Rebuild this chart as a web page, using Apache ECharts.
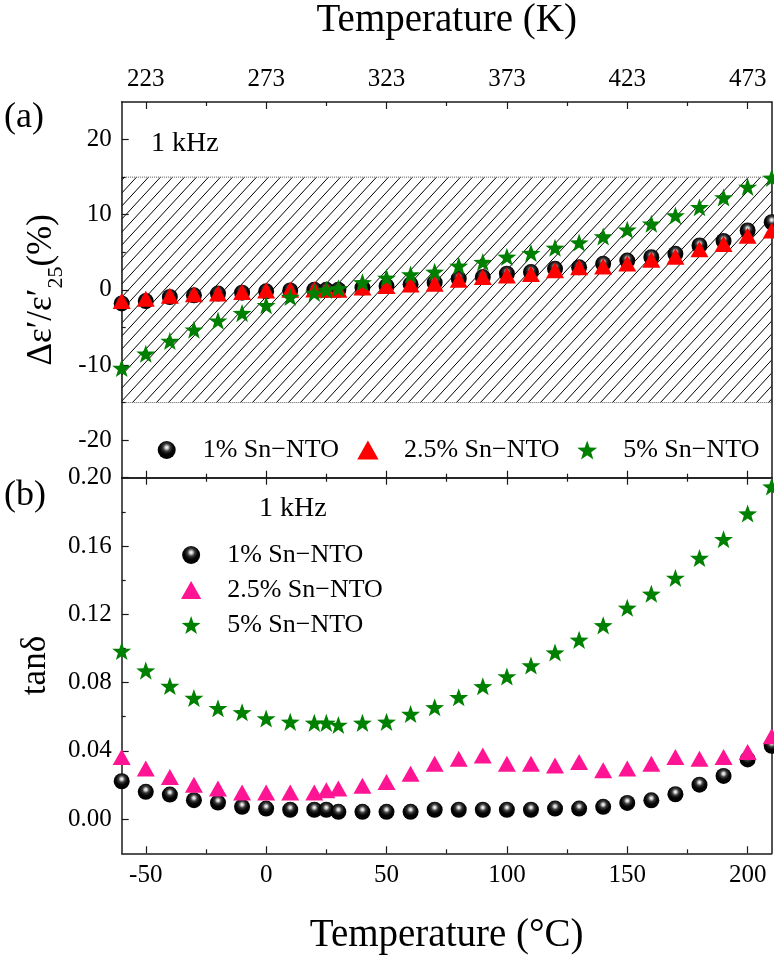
<!DOCTYPE html>
<html>
<head>
<meta charset="utf-8">
<script src="https://cdn.jsdelivr.net/npm/echarts@6/dist/echarts.min.js"></script>
<style>
html,body{margin:0;padding:0;background:#fff;}
#chart{width:774px;height:957px;}
</style>
</head>
<body>
<div id="chart"></div>
<script>
// ---------------- data ----------------
const tempC = [-60,-50,-40,-30,-20,-10,0,10,20,25,30,40,50,60,70,80,90,100,110,120,130,140,150,160,170,180,190,200,210];

// (a) Δε'/ε'25 (%)
const dE_1 = [-1.8,-1.5,-0.95,-0.73,-0.5,-0.38,-0.2,-0.07,0,0,0,0.3,0.5,0.73,0.95,1.48,1.7,2.14,2.36,2.8,3.0,3.46,3.9,4.34,4.8,5.9,6.5,7.9,9.0];
const dE_2 = [-1.5,-1.2,-0.8,-0.6,-0.5,-0.3,-0.1,0,0.05,0,0,0.3,0.5,0.7,0.8,1.35,1.7,1.9,2.1,2.6,3.0,3.1,3.5,4.0,4.4,5.4,6.1,7.2,7.9];
const dE_3 = [-10.4,-8.5,-6.8,-5.3,-4.1,-3.1,-2.05,-0.95,-0.4,0,0.2,1.0,1.6,2.05,2.4,3.2,3.7,4.4,4.9,5.6,6.3,7.1,8.0,8.8,9.9,11.0,12.3,13.7,14.9];

// (b) tanδ
const tan_1 = [0.0222,0.016,0.0144,0.0111,0.0097,0.0072,0.0062,0.0055,0.0055,0.0055,0.0043,0.0043,0.0043,0.0043,0.0055,0.0055,0.0055,0.0055,0.0055,0.0062,0.0062,0.0072,0.0095,0.011,0.0146,0.0202,0.0253,0.035,0.043];
const tan_2 = [0.0364,0.0296,0.0247,0.0202,0.0179,0.0156,0.0156,0.0156,0.0156,0.0169,0.0179,0.0195,0.0218,0.0266,0.0325,0.0354,0.0373,0.0325,0.0325,0.0315,0.0335,0.0286,0.0296,0.0325,0.0364,0.0354,0.0364,0.0393,0.0486];
const tan_3 = [0.0985,0.087,0.078,0.071,0.065,0.0626,0.059,0.057,0.0564,0.0564,0.0552,0.0564,0.057,0.0616,0.0655,0.0714,0.0778,0.0836,0.090,0.0976,0.105,0.1135,0.1238,0.132,0.1413,0.153,0.164,0.179,0.1948];

const seriesLabels = ['1% Sn\u2212NTO','2.5% Sn\u2212NTO','5% Sn\u2212NTO'];

// ticks
const xMajor = [-50,0,50,100,150,200];
const xMinor = [-25,25,75,125,175];
const yTopMajor = [-20,-10,0,10,20];
const yTopMinor = [-15,-5,5,15];
const yBotMajor = [0,0.04,0.08,0.12,0.16,0.20];
const yBotMinor = [0.02,0.06,0.10,0.14,0.18];
const hatchBand = [-15,15];

// ---------------- styles ----------------
const FF = "'Liberation Serif','Times New Roman',serif";
const AX = '#1a1a1a';
const sphere = {type:'radial',x:0.5,y:0.36,r:0.62,colorStops:[
  {offset:0,color:'#ffffff'},{offset:0.13,color:'#d0d0d0'},{offset:0.34,color:'#3a3a3a'},{offset:0.6,color:'#050505'},{offset:1,color:'#000000'}]};
const starPath = 'path://M50 0 L61.76 33.82 L97.55 34.55 L69.02 56.18 L79.39 90.45 L50 70 L20.61 90.45 L30.98 56.18 L2.45 34.55 L38.24 33.82 Z';
const triPath = 'path://M0 16 L9 0 L18 16 Z';

// hatch pattern
const pc = document.createElement('canvas');
pc.width = 12; pc.height = 13;
const g = pc.getContext('2d');
g.strokeStyle = '#000'; g.lineWidth = 1;
g.beginPath();
g.moveTo(-1,14.083); g.lineTo(13,-1.083);
g.moveTo(-13,14.083); g.lineTo(1,-1.083);
g.moveTo(11,14.083); g.lineTo(25,-1.083);
g.stroke();

const GRID0 = {left:121.7, top:100, width:650, height:377.7};
const GRID1 = {left:121.7, top:477.7, width:650, height:375.6};
const XR = [-60,210], YR0 = [-25,25], YR1 = [-0.02,0.20];

function lineAxis(kind, grid, pos, range, labels, fmt, name, nameGap, nameStyle) {
  const a = {
    type:'value', gridIndex:grid, position:pos, min:range[0], max:range[1],
    axisLine:{show:true, onZero:false, lineStyle:{color:AX,width:1.5}},
    axisTick:{show:false}, splitLine:{show:false},
    axisLabel:labels ? {show:true, customValues:labels, margin:10, formatter:fmt,
      fontFamily:FF, fontSize:25, color:'#000'} : {show:false}
  };
  if (name) {
    a.name = name; a.nameLocation = 'middle'; a.nameGap = nameGap;
    if (kind === 'y') a.nameRotate = 90;
    a.nameTextStyle = nameStyle;
  }
  return a;
}
function tickAxis(grid, pos, range, values, len) {
  return {
    type:'value', gridIndex:grid, position:pos, min:range[0], max:range[1],
    axisLine:{show:false, onZero:false},
    axisTick:{show:true, inside:true, length:len, customValues:values, lineStyle:{color:AX,width:1.2}},
    axisLabel:{show:false}, splitLine:{show:false}
  };
}

const titleStyle = {fontFamily:FF, fontSize:39, color:'#000'};
const legText = {fontFamily:FF, fontSize:26, color:'#000'};

const option = {
  animation:false,
  backgroundColor:'#fff',
  grid:[GRID0, GRID1],
  xAxis:[
    lineAxis('x',0,'bottom',XR,null),
    lineAxis('x',0,'top',XR,xMajor, v => String(v+273), 'Temperature (K)', 62, titleStyle),
    lineAxis('x',1,'bottom',XR,xMajor, v => String(v), 'Temperature (\u00B0C)', 63, titleStyle),
    lineAxis('x',1,'top',XR,null),
    tickAxis(0,'bottom',XR,xMajor,7), tickAxis(0,'top',XR,xMajor,7),
    tickAxis(1,'bottom',XR,xMajor,7), tickAxis(1,'top',XR,xMajor,7),
    tickAxis(0,'bottom',XR,xMinor,4), tickAxis(0,'top',XR,xMinor,4),
    tickAxis(1,'bottom',XR,xMinor,4), tickAxis(1,'top',XR,xMinor,4)
  ],
  yAxis:[
    lineAxis('y',0,'left',YR0,yTopMajor, v => String(v), '{a|\u0394\u03B5\u2032/\u03B5\u2032}{s|25}{a|(%)}', 57,
      {fontFamily:FF, color:'#000', rich:{
        a:{fontFamily:FF, fontSize:35, color:'#000', lineHeight:40},
        s:{fontFamily:FF, fontSize:22, color:'#000', verticalAlign:'bottom', lineHeight:22, padding:[0,0,-6,0]}}}),
    lineAxis('y',0,'right',YR0,null),
    tickAxis(0,'left',YR0,yTopMajor,7),
    tickAxis(0,'left',YR0,yTopMinor,4),
    lineAxis('y',1,'left',YR1,yBotMajor, v => v.toFixed(2), 'tan\u03B4', 68,
      {fontFamily:FF, fontSize:35, color:'#000'}),
    lineAxis('y',1,'right',YR1,null),
    tickAxis(1,'left',YR1,yBotMajor,7),
    tickAxis(1,'left',YR1,yBotMinor,4)
  ],
  legend:[
    {data:['a1'], left:157.7, top:437, padding:0, itemWidth:62, itemHeight:18, selectedMode:false,
     formatter: n => seriesLabels[0], textStyle:legText},
    {data:['a2'], left:357.2, top:437, padding:0, itemWidth:62, itemHeight:19, selectedMode:false,
     formatter: n => seriesLabels[1], textStyle:legText},
    {data:['a3'], left:577.2, top:437, padding:0, itemWidth:62, itemHeight:19, selectedMode:false,
     formatter: n => seriesLabels[2], textStyle:legText},
    {data:['b1','b2','b3'], orient:'vertical', left:181, top:542, padding:0,
     itemWidth:62, itemHeight:18, itemGap:9, selectedMode:false,
     formatter: n => seriesLabels[+n.slice(1)-1], textStyle:legText}
  ],
  graphic:[
    {type:'text', left:4, top:100, style:{text:'(a)', font:'36px '+FF, fill:'#000'}},
    {type:'text', left:4, top:478, style:{text:'(b)', font:'36px '+FF, fill:'#000'}},
    {type:'text', left:151, top:130, style:{text:'1 kHz', font:'28px '+FF, fill:'#000'}},
    {type:'text', left:259, top:495, style:{text:'1 kHz', font:'28px '+FF, fill:'#000'}}
  ],
  series:[
    {name:'a1', type:'scatter', xAxisIndex:0, yAxisIndex:0, symbol:'circle', symbolSize:16,
     itemStyle:{color:sphere, opacity:1}, data: tempC.map((t,i)=>[t,dE_1[i]]),
     markArea:{silent:true, z:0, itemStyle:{color:{image:pc, repeat:'repeat'}, opacity:1, borderColor:'#555', borderWidth:1, borderType:'dotted'},
       data:[[{yAxis:hatchBand[0]},{yAxis:hatchBand[1]}]]}},
    {name:'a2', type:'scatter', xAxisIndex:0, yAxisIndex:0, symbol:triPath, symbolSize:18, symbolKeepAspect:true,
     itemStyle:{color:'#ff0000', opacity:1}, data: tempC.map((t,i)=>[t,dE_2[i]])},
    {name:'a3', type:'scatter', xAxisIndex:0, yAxisIndex:0, symbol:starPath, symbolSize:19, symbolKeepAspect:true,
     itemStyle:{color:'#008000', opacity:1}, data: tempC.map((t,i)=>[t,dE_3[i]])},
    {name:'b1', type:'scatter', xAxisIndex:2, yAxisIndex:4, symbol:'circle', symbolSize:16,
     itemStyle:{color:sphere, opacity:1}, data: tempC.map((t,i)=>[t,tan_1[i]])},
    {name:'b2', type:'scatter', xAxisIndex:2, yAxisIndex:4, symbol:triPath, symbolSize:18, symbolKeepAspect:true,
     itemStyle:{color:'#ff1493', opacity:1}, data: tempC.map((t,i)=>[t,tan_2[i]])},
    {name:'b3', type:'scatter', xAxisIndex:2, yAxisIndex:4, symbol:starPath, symbolSize:19, symbolKeepAspect:true,
     itemStyle:{color:'#008000', opacity:1}, data: tempC.map((t,i)=>[t,tan_3[i]])}
  ]
};

const chart = echarts.init(document.getElementById('chart'), null, {renderer:'canvas'});
chart.setOption(option);
</script>
</body>
</html>
